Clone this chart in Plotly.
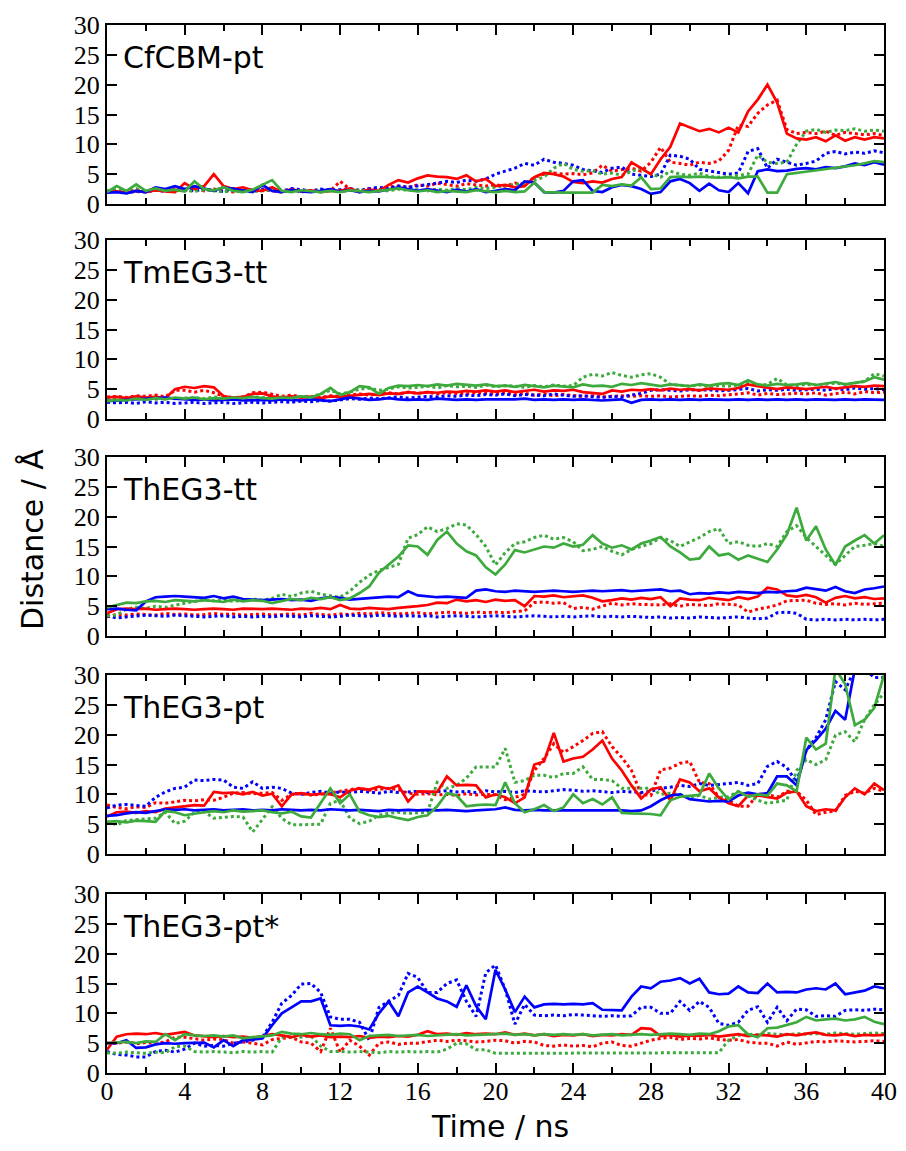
import plotly.graph_objects as go

# time grid (ns), one sample every 0.5 ns
time_ns = [i * 0.5 for i in range(81)]

panel_names = ["CfCBM-pt", "TmEG3-tt", "ThEG3-tt", "ThEG3-pt", "ThEG3-pt*"]
x_tick_vals = [0, 4, 8, 12, 16, 20, 24, 28, 32, 36, 40]
y_tick_vals = [0, 5, 10, 15, 20, 25, 30]

# ---------------- Panel 1: CfCBM-pt ----------------
cf_red = [2.0, 2.1, 1.9, 2.2, 2.0, 2.3, 2.1, 2.0,
          3.5, 2.5, 3.0, 5.0, 3.0, 2.5, 2.8, 2.3,
          2.2, 2.8, 2.0, 2.5, 2.1, 2.3, 2.0, 2.2,
          2.2, 2.6, 2.0, 2.4, 2.2, 3.2, 4.0, 3.6,
          4.3, 4.8, 4.6, 4.5, 4.2, 4.8, 3.8, 4.2,
          3.0, 3.2, 2.8, 3.0, 4.5, 5.2, 5.0, 4.6,
          3.7, 3.5, 3.8, 3.6, 4.2, 4.5, 7.0, 6.0,
          5.0, 7.5, 9.6, 13.5, 12.8, 12.2, 12.6, 12.0,
          12.8, 12.0, 15.5, 17.5, 20.0, 17.0, 11.8, 11.0,
          10.8, 11.2, 10.5, 11.5, 10.6, 11.2, 10.8, 11.2, 11.0]
cf_blue = [1.9, 2.0, 1.8, 2.2, 2.0, 2.8, 2.5, 3.0,
           2.5, 3.0, 2.6, 2.2, 2.8, 2.5, 2.2, 2.0,
           3.2, 2.2, 2.0, 2.4, 2.1, 2.0, 2.2, 2.5,
           2.1, 2.3, 2.0, 2.2, 2.1, 2.4, 2.8, 2.5,
           2.2, 2.5, 2.3, 2.0, 2.4, 2.1, 2.5, 2.0,
           2.2, 2.5, 2.3, 3.8, 3.6, 2.0, 1.9, 2.2,
           3.8, 4.0, 2.2, 2.0, 2.8, 3.2, 3.0, 2.5,
           1.7, 2.0, 3.8, 4.2, 3.5, 2.2, 3.4, 2.3,
           2.0, 3.5, 1.8, 5.5, 5.8, 5.5, 5.6, 5.9,
           6.0, 5.8, 6.2, 6.0, 6.3, 6.8, 6.5, 7.0, 6.6]
cf_green = [2.0, 3.0, 2.2, 3.3, 2.2, 2.6, 2.2, 2.4,
            2.1, 3.8, 2.5, 2.3, 2.8, 2.2, 2.0, 2.4,
            3.2, 4.0, 2.2, 2.0, 2.3, 2.1, 2.0, 2.2,
            2.0, 2.3, 2.1, 2.0, 2.2, 2.4, 2.6, 2.3,
            2.1, 2.3, 2.0, 2.2, 2.1, 2.0, 2.3, 2.1,
            2.0, 2.2, 2.0, 2.1, 3.6, 2.0, 1.9, 1.9,
            1.9, 1.9, 1.9, 3.2, 3.0, 3.3, 3.1, 4.5,
            2.5, 2.6, 4.5, 4.6, 4.5, 4.6, 4.5, 4.4,
            4.5, 4.3, 4.6, 4.6, 1.9, 1.9, 5.0, 5.2,
            5.5, 5.6, 5.8, 6.0, 6.2, 6.5, 6.8, 7.2, 7.0]
cf_red_dot = [2.0, 2.2, 2.0, 2.3, 2.1, 2.4, 2.2, 2.5,
              2.3, 2.6, 2.2, 2.5, 2.3, 2.0, 2.3, 2.1,
              2.4, 2.2, 2.0, 2.3, 2.2, 2.1, 2.4, 2.2,
              3.8, 2.5, 2.2, 2.6, 2.4, 2.9, 3.0, 2.8,
              3.2, 3.0, 3.5, 3.3, 3.0, 3.4, 3.2, 3.0,
              3.2, 3.0, 3.5, 3.3, 4.5, 5.0, 5.2, 5.0,
              5.1, 4.9, 5.2, 6.5, 5.5, 5.8, 6.0, 5.5,
              7.0, 9.5, 7.0, 6.8, 6.5, 7.0, 6.8, 7.2,
              9.0, 13.2, 13.0, 15.2, 16.6, 17.4, 12.5, 11.8,
              12.0, 11.8, 12.2, 11.5, 12.0, 11.8, 11.6, 11.8, 11.5]
cf_blue_dot = [2.0, 2.2, 1.9, 2.1, 2.0, 2.3, 2.1, 2.2,
               2.4, 2.2, 2.5, 2.3, 2.1, 2.6, 2.2, 2.4,
               2.5, 2.3, 2.2, 2.6, 2.4, 2.2, 2.5, 2.3,
               2.4, 2.6, 2.3, 2.5, 2.8, 2.6, 3.0, 2.8,
               3.0, 3.2, 3.5, 3.8, 3.6, 4.0, 3.8, 4.2,
               5.0, 5.5, 6.0, 6.8, 6.5, 7.5, 7.0, 6.8,
               6.5, 5.8, 5.5, 5.3, 6.0, 6.2, 5.0, 4.8,
               4.6, 5.0, 8.2, 8.0, 7.5, 5.8, 5.5, 5.3,
               5.0, 5.2, 8.8, 9.3, 6.0, 7.5, 7.0, 6.5,
               6.8, 7.2, 8.5, 8.8, 8.4, 8.7, 8.5, 8.9, 8.6]
cf_green_dot = [2.2, 2.4, 2.0, 2.6, 2.1, 2.3, 2.5, 2.2,
                2.3, 2.1, 2.4, 2.2, 2.0, 2.3, 2.2, 2.1,
                2.2, 2.4, 2.1, 2.3, 2.0, 2.2, 2.1, 2.3,
                2.1, 2.2, 2.4, 2.1, 2.3, 2.2, 2.5, 2.3,
                2.4, 2.2, 2.5, 2.3, 2.6, 2.4, 2.8, 2.6,
                2.8, 3.0, 3.2, 3.5, 4.0, 4.5, 6.0, 6.8,
                5.8, 5.5, 5.6, 5.0, 5.2, 4.8, 5.5, 6.0,
                5.0, 4.5, 5.5, 5.0, 4.8, 5.2, 4.6, 4.5,
                4.6, 4.8, 5.0, 8.2, 7.0, 6.8, 7.0, 10.0,
                12.2, 12.5, 12.0, 12.4, 12.3, 12.6, 12.2, 12.4, 12.2]

# ---------------- Panel 2: TmEG3-tt ----------------
tm_red = [3.6, 3.7, 3.5, 3.8, 3.6, 3.7, 3.5, 5.0,
          5.4, 5.2, 5.5, 5.3, 3.8, 3.6, 3.7, 4.2,
          4.3, 3.8, 3.6, 3.8, 3.6, 3.7, 3.5, 3.8,
          3.7, 3.9, 4.0, 4.2, 4.0, 4.3, 4.2, 4.5,
          4.3, 4.5, 4.4, 4.6, 4.5, 4.7, 4.6, 4.8,
          4.6, 4.8, 4.5, 4.7, 4.9, 4.6, 4.8, 4.7,
          4.9, 4.5, 4.4, 4.2, 4.8, 4.6, 4.9, 4.8,
          5.0, 4.8, 5.1, 4.9, 5.0, 4.8, 5.1, 5.0,
          4.9, 5.2, 5.8, 5.5, 5.2, 5.0, 5.3, 5.1,
          5.0, 5.2, 5.4, 5.1, 5.3, 5.5, 5.4, 5.6, 5.5]
tm_blue = [3.0, 3.1, 3.2, 3.3, 3.4, 3.5, 3.6, 3.4,
           3.3, 3.2, 3.3, 3.1, 3.2, 3.3, 3.1, 3.2,
           3.2, 3.1, 3.3, 3.2, 3.1, 3.3, 3.2, 3.0,
           3.3, 3.6, 3.4, 3.2, 3.3, 3.5, 3.3, 3.2,
           3.3, 3.2, 3.4, 3.3, 3.2, 3.3, 3.2, 3.3,
           3.3, 3.2, 3.3, 3.4, 3.2, 3.3, 3.2, 3.3,
           3.2, 3.3, 3.2, 3.1, 3.2, 3.3, 2.7, 3.2,
           3.3, 3.2, 3.3, 3.2, 3.3, 3.2, 3.3, 3.2,
           3.2, 3.3, 3.2, 3.3, 3.2, 3.3, 3.2, 3.3,
           3.2, 3.3, 3.2, 3.2, 3.3, 3.2, 3.3, 3.2, 3.2]
tm_green = [3.0, 3.2, 3.1, 3.4, 3.2, 3.5, 3.3, 3.6,
            3.4, 3.6, 3.3, 3.5, 3.4, 3.6, 3.5, 3.7,
            3.5, 3.4, 3.6, 3.5, 3.8, 3.6, 4.2, 5.2,
            4.0, 4.5, 5.5, 5.3, 4.2, 5.2, 5.6, 5.5,
            5.7, 5.5, 5.8, 5.6, 5.9, 5.7, 5.6, 5.8,
            5.5, 5.6, 5.4, 5.7, 5.5, 5.3, 5.6, 5.5,
            5.3, 5.8, 5.5, 5.6, 5.4, 5.9, 5.7, 6.0,
            5.7, 5.5, 5.8, 5.6, 5.5, 5.8, 5.6, 5.9,
            6.0, 5.7, 6.5, 5.8, 5.6, 5.9, 5.7, 5.8,
            6.0, 5.7, 5.9, 6.2, 5.8, 6.0, 6.3, 7.0, 6.6]
tm_red_dot = [3.7, 3.8, 3.6, 3.9, 3.8, 4.0, 3.7, 4.8,
              4.8, 4.5, 4.8, 4.4, 3.8, 3.6, 3.7, 4.4,
              4.5, 4.2, 3.8, 4.0, 3.7, 3.8, 3.6, 3.9,
              3.8, 4.0, 4.2, 4.0, 4.3, 4.4, 4.2, 4.5,
              4.3, 4.5, 4.2, 4.4, 4.3, 4.2, 4.4, 4.3,
              4.2, 4.4, 4.1, 4.3, 4.0, 4.2, 3.9, 4.1,
              4.0, 3.8, 3.9, 3.7, 3.8, 3.9, 3.8, 3.9,
              3.8, 3.9, 3.7, 3.8, 3.9, 3.8, 4.0, 3.9,
              4.0, 4.2, 4.4, 4.0, 4.3, 4.1, 4.2, 4.3,
              4.2, 4.4, 4.0, 4.3, 4.5, 4.2, 4.6, 4.4, 4.5]
tm_blue_dot = [2.8, 2.7, 2.8, 2.6, 2.9, 2.7, 2.8, 2.6,
               2.7, 2.8, 2.6, 2.7, 2.8, 2.6, 2.7, 2.8,
               2.7, 2.8, 2.9, 2.8, 3.0, 2.9, 3.1, 3.0,
               3.2, 3.4, 3.3, 3.5, 3.4, 3.6, 3.7, 3.5,
               3.6, 3.8, 3.7, 3.9, 3.8, 4.0, 3.9, 4.1,
               4.0, 4.2, 3.9, 4.1, 4.0, 3.9, 4.2, 4.0,
               3.8, 3.9, 3.7, 3.6, 3.8, 3.7, 4.0, 4.3,
               4.8, 4.9, 4.8, 4.7, 4.9, 4.8, 4.9, 4.7,
               4.8, 4.9, 5.1, 4.7, 4.9, 4.8, 5.0, 4.8,
               4.9, 5.0, 4.8, 5.1, 4.9, 5.2, 5.0, 5.1, 4.9]
tm_green_dot = [3.2, 3.4, 3.3, 3.5, 3.4, 3.3, 3.6, 3.4,
                3.5, 3.6, 3.4, 3.7, 3.5, 3.6, 3.4, 3.7,
                3.6, 3.5, 3.7, 3.6, 3.8, 3.7, 4.2, 4.8,
                4.2, 4.5, 5.0, 5.2, 4.8, 5.0, 5.4, 5.2,
                5.3, 5.5, 5.2, 5.6, 5.4, 5.5, 5.3, 5.7,
                5.4, 5.6, 5.5, 5.3, 5.6, 5.4, 5.7, 5.5,
                5.6, 7.0, 7.5, 7.2, 7.8, 7.3, 7.0, 7.4,
                7.6, 7.0, 5.8, 5.6, 5.5, 5.7, 5.4, 5.6,
                5.5, 5.7, 6.0, 5.6, 5.8, 6.8, 5.7, 5.6,
                5.8, 5.7, 5.9, 6.0, 5.8, 6.1, 6.3, 7.6, 7.2]

# ---------------- Panel 3: ThEG3-tt ----------------
thtt_red = [3.8, 4.5, 4.6, 4.5, 4.6, 4.4, 4.5, 4.6,
            4.5, 4.4, 4.5, 4.6, 4.5, 4.4, 4.6, 4.5,
            4.5, 4.6, 4.5, 4.4, 4.6, 4.5, 4.7, 4.5,
            5.2, 4.6, 4.5, 4.7, 4.6, 4.5, 4.7, 4.8,
            5.0, 5.2, 5.6, 5.5, 6.1, 5.8, 6.0, 5.7,
            6.1, 5.9, 6.0, 5.0, 6.7, 6.6, 6.8, 6.5,
            6.6, 6.8, 6.4, 5.8, 6.0, 6.3, 6.1, 6.4,
            6.2, 6.5, 5.0, 6.3, 6.1, 6.0, 6.4, 6.2,
            6.0, 6.5, 6.2, 6.6, 8.1, 7.8, 6.8, 6.6,
            6.9, 6.5, 5.6, 6.4, 6.7, 6.3, 6.5, 6.2, 6.3]
thtt_blue = [4.5, 4.6, 4.4, 4.3, 5.8, 6.5, 6.6, 6.7,
             6.6, 6.5, 6.4, 6.7, 6.3, 6.6, 6.2, 6.1,
             6.0, 6.1, 6.2, 6.0, 6.1, 5.9, 6.3, 6.5,
             6.4, 6.1, 6.2, 6.3, 6.4, 6.6, 6.5, 7.5,
             6.8, 6.6, 6.5, 6.6, 6.5, 6.4, 7.6, 7.8,
             7.5, 7.4, 7.6, 7.5, 7.4, 7.5, 7.6, 7.5,
             7.4, 7.5, 7.6, 7.5, 7.6, 7.7, 7.5, 7.6,
             7.7, 7.8, 7.5, 7.6, 7.0, 7.2, 7.1, 7.3,
             7.2, 7.4, 7.3, 7.2, 7.4, 7.3, 7.5, 7.6,
             8.1, 7.8, 7.6, 8.2, 7.5, 7.2, 7.8, 8.0, 8.3]
thtt_green = [4.8, 5.2, 5.6, 5.5, 5.8, 5.9, 5.7, 6.0,
              5.9, 5.8, 6.0, 5.9, 5.7, 6.1, 5.8, 6.0,
              5.9, 5.5, 5.8, 6.2, 6.0, 6.4, 6.2, 6.5,
              6.0, 6.3, 7.2, 8.3, 10.6, 12.0, 13.3, 15.2,
              15.0, 13.6, 16.1, 17.5, 15.5, 14.2, 13.5, 11.5,
              10.3, 12.0, 14.4, 14.0, 14.5, 15.0, 14.8, 15.5,
              15.0, 15.3, 16.9, 15.5, 14.8, 15.2, 14.5, 15.5,
              16.0, 16.6, 15.0, 14.0, 12.8, 13.0, 15.0, 13.5,
              13.8, 12.8, 13.5, 12.9, 12.4, 14.5, 17.0, 21.5,
              16.0, 18.4, 14.5, 11.9, 15.0, 16.0, 16.9, 15.5, 16.9]
thtt_red_dot = [3.2, 3.6, 3.5, 3.7, 3.6, 3.5, 3.8, 3.6,
                3.7, 3.5, 3.6, 3.8, 3.6, 3.7, 3.5, 3.6,
                3.7, 3.5, 3.6, 3.7, 3.5, 3.8, 3.6, 3.5,
                3.7, 3.6, 3.8, 3.7, 3.9, 3.8, 3.7, 3.8,
                3.9, 3.7, 3.8, 4.0, 3.9, 3.8, 4.0, 3.9,
                4.0, 3.9, 4.1, 4.2, 5.6, 5.7, 5.5, 5.6,
                4.6, 4.8, 4.5, 5.0, 5.5, 5.2, 5.4, 5.3,
                5.3, 5.2, 5.4, 5.0, 5.3, 5.2, 5.1, 5.4,
                5.3, 5.2, 4.0, 4.5, 4.8, 5.2, 5.9, 6.0,
                6.0, 5.5, 5.3, 5.4, 5.2, 5.5, 5.3, 5.4, 5.5]
thtt_blue_dot = [3.4, 3.0, 3.2, 3.3, 3.5, 3.4, 3.3, 3.5,
                 3.4, 3.3, 3.2, 3.3, 3.4, 3.2, 3.3, 3.2,
                 3.3, 3.2, 3.4, 3.3, 3.2, 3.4, 3.3, 3.2,
                 3.3, 3.5, 3.4, 3.3, 3.5, 3.4, 3.3, 3.4,
                 3.3, 3.4, 3.2, 3.3, 3.4, 3.3, 3.2, 3.3,
                 3.4, 3.3, 3.2, 3.3, 3.4, 3.3, 3.2, 3.3,
                 3.2, 3.3, 3.4, 3.2, 3.3, 3.2, 3.3, 3.2,
                 3.1, 3.2, 3.0, 3.1, 3.0, 3.2, 3.1, 3.0,
                 3.1, 3.2, 3.0, 2.9, 3.0, 3.9, 4.0, 3.8,
                 2.8, 2.7, 2.8, 2.7, 2.8, 2.7, 2.8, 2.7, 2.8]
thtt_green_dot = [3.4, 3.5, 4.5, 4.8, 4.6, 5.0, 4.8, 5.2,
                  5.5, 5.8, 6.0, 5.9, 6.1, 5.8, 6.0, 6.2,
                  6.0, 6.3, 7.0, 6.6, 7.2, 7.5, 7.0, 6.8,
                  6.5, 7.5, 9.0, 10.2, 11.0, 11.5, 12.0, 16.4,
                  17.0, 18.3, 17.5, 18.0, 18.8, 18.6, 17.0, 15.0,
                  11.9, 14.0, 15.5, 15.8, 16.5, 16.9, 16.2, 16.5,
                  15.8, 14.3, 14.5, 15.0, 14.2, 13.6, 14.5, 15.0,
                  15.5, 16.5, 16.0, 15.0, 15.8, 16.5, 17.5, 18.0,
                  15.5, 15.8, 15.2, 15.0, 15.5, 15.0, 17.5, 18.5,
                  16.5, 15.0, 13.5, 12.0, 13.5, 15.0, 15.2, 15.5, 15.0]

# ---------------- Panel 4: ThEG3-pt ----------------
thpt_red = [6.3, 7.0, 7.1, 6.9, 7.2, 7.0, 7.6, 7.8,
            8.0, 8.2, 8.1, 10.4, 10.2, 10.3, 10.0, 10.4,
            9.8, 10.1, 8.0, 10.0, 10.2, 9.9, 10.1, 10.0,
            9.5, 10.6, 11.0, 10.8, 11.3, 10.9, 11.5, 8.8,
            10.5, 10.4, 10.4, 13.0, 11.5, 11.6, 11.5, 9.5,
            10.0, 9.5, 8.5, 9.5, 15.0, 15.5, 20.3, 15.5,
            16.0, 16.3, 17.5, 19.0, 16.0, 14.0, 11.5, 9.3,
            10.8, 11.2, 9.0, 12.5, 12.0, 10.5, 11.0, 9.5,
            8.5, 8.0, 9.8, 9.8, 9.5, 9.3, 10.3, 10.5,
            8.0, 7.2, 7.5, 7.3, 9.5, 11.0, 10.0, 11.8, 10.7]
thpt_blue = [6.4, 6.5, 6.8, 7.0, 6.9, 7.2, 7.5, 7.4,
             7.5, 7.3, 7.4, 7.5, 7.3, 7.4, 7.5, 7.3,
             7.4, 7.3, 7.5, 7.4, 7.3, 7.4, 7.3, 7.5,
             7.4, 7.3, 7.4, 7.3, 7.2, 7.4, 7.3, 7.4,
             7.3, 7.4, 7.3, 7.4, 7.3, 7.2, 7.3, 7.4,
             7.5, 7.8, 7.4, 7.3, 7.4, 7.3, 7.3, 7.4,
             7.3, 7.4, 7.3, 7.3, 7.4, 7.3, 7.2, 7.3,
             8.0, 9.0, 9.8, 10.0, 9.2, 9.0, 8.8, 8.9,
             8.8, 9.8, 10.3, 10.0, 10.2, 13.0, 13.0, 11.5,
             17.4, 19.1, 21.0, 24.0, 22.5, 31.0, 32.0, 31.0, 30.5]
thpt_green = [5.4, 5.5, 5.3, 5.6, 5.5, 5.4, 7.2, 7.0,
              6.5, 6.8, 7.0, 7.2, 7.0, 7.3, 7.1, 7.2,
              7.3, 7.0, 6.8, 7.1, 6.3, 6.1, 8.5, 11.0,
              8.5, 10.0, 7.1, 6.5, 6.2, 6.4, 6.0, 5.7,
              6.2, 6.5, 8.0, 10.2, 9.8, 8.0, 8.2, 8.3,
              8.2, 12.0, 8.5, 7.0, 7.5, 8.2, 7.2, 7.8,
              10.0, 8.5, 9.2, 8.3, 9.5, 6.9, 6.8, 6.8,
              6.7, 6.5, 9.0, 9.6, 9.8, 9.9, 13.5, 11.0,
              9.1, 10.5, 9.6, 10.0, 9.8, 11.8, 11.5, 10.5,
              19.5, 17.5, 18.5, 31.0, 28.5, 21.6, 22.5, 24.5, 30.0]
thpt_red_dot = [8.2, 7.8, 7.6, 7.9, 7.8, 8.6, 8.5, 8.7,
                9.0, 8.9, 9.1, 9.0, 9.5, 10.2, 10.3, 10.1,
                10.2, 10.3, 9.0, 10.0, 10.1, 9.9, 10.0, 10.2,
                10.5, 10.8, 11.0, 10.7, 10.9, 11.0, 10.8, 10.2,
                10.0, 10.1, 9.9, 10.0, 9.8, 10.1, 9.9, 10.0,
                9.9, 9.1, 9.5, 10.0, 14.0, 16.0, 18.5, 17.0,
                18.0, 19.0, 20.2, 20.5, 18.0, 16.2, 14.0, 10.0,
                9.8, 14.1, 14.4, 15.2, 15.5, 12.0, 11.8, 9.5,
                9.0, 8.0, 8.0, 10.0, 10.0, 9.5, 10.5, 10.5,
                9.0, 6.6, 7.0, 7.2, 9.8, 10.5, 10.2, 11.0, 10.5]
thpt_blue_dot = [7.7, 8.2, 8.3, 8.1, 8.0, 9.5, 10.4, 11.0,
                 11.2, 12.4, 12.3, 12.5, 12.4, 11.2, 11.0, 12.1,
                 11.0, 11.2, 11.0, 10.2, 10.0, 10.3, 10.5, 10.2,
                 10.4, 10.3, 10.5, 10.4, 10.2, 10.5, 10.3, 10.4,
                 10.5, 10.3, 10.4, 10.6, 10.4, 10.5, 10.3, 10.6,
                 10.4, 10.5, 10.3, 10.6, 10.5, 10.4, 10.6, 10.8,
                 10.7, 10.5, 10.6, 10.4, 10.3, 10.5, 10.4, 10.3,
                 10.5, 11.0, 11.2, 11.5, 11.3, 11.8, 11.5, 11.6,
                 11.8, 12.0, 11.5, 11.8, 14.7, 15.5, 14.5, 12.0,
                 17.4, 19.5, 22.5, 28.9, 27.5, 31.0, 31.0, 29.6, 29.6]
thpt_green_dot = [5.4, 4.9, 5.6, 5.8, 5.9, 6.0, 7.0, 5.1,
                  5.5, 7.0, 7.1, 6.0, 6.2, 6.3, 6.2, 3.7,
                  5.8, 7.9, 6.0, 4.9, 4.9, 5.0, 5.0, 8.5,
                  9.0, 6.0, 5.1, 5.5, 6.5, 6.8, 7.0, 6.8,
                  6.9, 7.0, 12.0, 11.0, 11.5, 12.7, 14.6, 14.6,
                  14.6, 17.7, 12.0, 12.3, 13.2, 13.2, 12.8, 13.5,
                  13.5, 14.6, 12.5, 12.5, 12.3, 11.0, 11.0, 11.0,
                  11.0, 10.0, 10.2, 10.0, 9.5, 9.8, 9.2, 9.5,
                  9.6, 10.5, 9.8, 9.0, 8.5, 8.8, 9.0, 14.0,
                  15.8, 15.0, 15.8, 19.9, 20.5, 18.8, 22.5, 25.0, 27.0]

# ---------------- Panel 5: ThEG3-pt* ----------------
thps_red = [3.9, 6.1, 6.5, 6.6, 6.5, 6.7, 6.4, 6.6,
            6.9, 6.3, 6.1, 6.0, 6.2, 6.0, 6.1, 5.9,
            6.2, 6.5, 6.3, 6.0, 6.4, 6.1, 6.3, 6.0,
            6.1, 6.0, 6.2, 5.9, 6.1, 6.0, 6.2, 6.1,
            6.4, 7.0, 6.5, 6.6, 6.4, 6.7, 6.5, 6.6,
            6.5, 6.8, 6.4, 6.6, 6.3, 6.5, 6.2, 6.4,
            6.3, 6.5, 6.2, 6.4, 6.3, 6.5, 6.4, 7.5,
            7.4, 6.2, 6.4, 6.1, 6.3, 6.2, 6.4, 6.1,
            6.3, 6.5, 6.2, 6.4, 6.3, 6.1, 6.5, 6.3,
            6.6, 6.8, 6.4, 6.3, 6.5, 6.2, 6.4, 6.3, 6.4]
thps_blue = [5.0, 5.0, 5.5, 4.2, 4.3, 4.8, 5.0, 4.9,
             5.0, 5.0, 5.1, 4.3, 5.5, 4.5, 5.5, 5.6,
             5.8, 8.0, 10.0, 11.0, 12.0, 12.0, 12.5, 8.0,
             7.9, 8.0, 7.8, 7.3, 10.0, 12.0, 9.5, 13.5,
             14.5, 13.5, 12.5, 12.0, 11.1, 14.7, 11.2, 9.0,
             17.3, 14.0, 10.2, 12.8, 11.0, 11.5, 11.6, 11.5,
             11.6, 11.5, 11.7, 10.6, 10.5, 10.5, 12.8, 14.5,
             14.2, 15.3, 15.5, 15.9, 15.0, 15.8, 13.5, 13.2,
             13.3, 14.5, 13.5, 13.4, 15.0, 13.5, 13.6, 13.5,
             14.0, 14.2, 14.0, 15.0, 13.2, 13.5, 13.8, 14.5, 14.2]
thps_green = [5.0, 5.1, 5.2, 5.0, 5.3, 5.2, 6.5, 5.5,
              6.5, 6.3, 6.2, 6.3, 6.1, 6.3, 5.8, 6.0,
              6.1, 6.3, 6.9, 6.6, 6.5, 6.7, 6.5, 6.4,
              6.6, 6.5, 5.5, 6.2, 6.3, 6.4, 6.2, 6.3,
              6.4, 6.2, 6.3, 6.4, 6.5, 6.3, 6.4, 6.5,
              6.5, 6.6, 6.4, 6.5, 6.3, 6.5, 6.4, 6.5,
              6.4, 6.5, 6.3, 6.4, 6.5, 6.3, 6.4, 6.5,
              6.4, 6.5, 6.6, 6.5, 6.4, 6.6, 6.5, 7.0,
              7.8, 8.0, 6.5, 6.0, 7.5, 7.6, 8.0, 8.5,
              9.4, 8.8, 9.0, 9.1, 8.8, 9.0, 9.4, 8.6, 8.2]
thps_red_dot = [5.0, 5.0, 5.2, 4.9, 5.1, 5.0, 5.2, 6.0,
                6.0, 5.8, 5.5, 5.7, 5.6, 5.0, 5.2, 5.0,
                4.7, 5.6, 5.8, 6.0, 5.2, 5.0, 3.6, 7.5,
                3.5, 5.5, 4.5, 3.0, 5.0, 5.2, 4.8, 5.0,
                5.0, 5.2, 5.5, 5.3, 5.5, 5.4, 5.2, 5.3,
                5.5, 5.4, 5.0, 5.3, 5.2, 4.6, 4.5, 4.7,
                4.5, 4.6, 4.4, 5.0, 5.2, 4.6, 4.5, 5.0,
                5.5, 5.8, 6.0, 5.6, 5.8, 5.7, 5.9, 5.6,
                5.5, 5.6, 5.2, 5.0, 5.0, 4.5, 5.2, 4.8,
                5.0, 5.3, 5.2, 5.4, 5.3, 5.2, 5.3, 5.4, 5.3]
thps_blue_dot = [3.6, 3.1, 3.0, 2.7, 2.7, 3.6, 3.8, 3.5,
                 4.0, 5.0, 4.5, 4.6, 4.5, 5.0, 5.2, 5.5,
                 6.0, 8.5, 11.7, 13.0, 14.9, 15.0, 13.5, 9.4,
                 9.0, 9.0, 8.5, 5.5, 11.0, 12.0, 13.0, 16.7,
                 16.0, 13.5, 13.5, 15.0, 15.6, 12.0, 9.5, 16.8,
                 18.1, 14.0, 8.2, 11.5, 9.7, 9.6, 9.7, 9.6,
                 9.8, 9.7, 9.6, 9.5, 9.6, 9.5, 9.6, 11.0,
                 11.0, 10.0, 10.0, 12.0, 10.5, 12.0, 11.0, 8.3,
                 8.0, 8.5, 10.5, 11.1, 8.5, 11.0, 8.8, 10.7,
                 10.6, 9.5, 9.6, 9.5, 10.5, 10.6, 10.5, 10.7, 10.6]
thps_green_dot = [3.4, 3.3, 3.5, 3.4, 3.3, 3.5, 3.4, 4.4,
                  4.5, 3.6, 3.5, 3.6, 3.5, 3.4, 3.6, 3.5,
                  3.6, 3.5, 6.0, 6.1, 6.0, 6.2, 4.5, 3.6,
                  3.6, 3.5, 3.6, 3.5, 3.4, 3.6, 3.5, 3.6,
                  3.5, 3.6, 3.5, 4.0, 5.0, 4.9, 3.9, 3.9,
                  3.3, 3.3, 3.3, 3.3, 3.3, 3.3, 3.3, 3.3,
                  3.3, 3.3, 3.3, 3.3, 3.3, 3.3, 3.3, 3.3,
                  3.3, 3.3, 3.3, 3.3, 3.3, 3.3, 3.3, 3.4,
                  5.5, 6.3, 6.5, 6.4, 6.6, 6.5, 6.4, 6.6,
                  6.5, 6.6, 6.5, 6.7, 6.6, 6.5, 6.6, 6.7, 6.6]

panels = [
    (cf_red, cf_blue, cf_green, cf_red_dot, cf_blue_dot, cf_green_dot),
    (tm_red, tm_blue, tm_green, tm_red_dot, tm_blue_dot, tm_green_dot),
    (thtt_red, thtt_blue, thtt_green, thtt_red_dot, thtt_blue_dot, thtt_green_dot),
    (thpt_red, thpt_blue, thpt_green, thpt_red_dot, thpt_blue_dot, thpt_green_dot),
    (thps_red, thps_blue, thps_green, thps_red_dot, thps_blue_dot, thps_green_dot),
]

RED, BLUE, GREEN = "#ff0000", "#0000ff", "#3caa3c"
# the page body adds an 8 px margin, so the figure is drawn 8 px in from the corner
OFF = 8
W, H = 906 - OFF, 1151 - OFF


def px_x(x):
    return (x - OFF) / W


def px_y(y):
    return 1 - (y - OFF) / H


plot_left, plot_right = 107, 884
panel_tops = [25, 240, 457, 675, 894]
panel_h = 179
TICK_FONT = dict(family="Liberation Serif", size=26, color="black")

fig = go.Figure()
for k, (r, b, g, rd, bd, gd) in enumerate(panels):
    ax = "" if k == 0 else str(k + 1)
    xa, ya = "x" + ax, "y" + ax
    for ys, col in ((rd, RED), (bd, BLUE), (gd, GREEN)):
        fig.add_trace(go.Scatter(x=time_ns, y=ys, mode="lines", xaxis=xa, yaxis=ya,
                                 line=dict(color=col, width=3, dash="dot"),
                                 showlegend=False, hoverinfo="skip"))
    for ys, col in ((r, RED), (b, BLUE), (g, GREEN)):
        fig.add_trace(go.Scatter(x=time_ns, y=ys, mode="lines", xaxis=xa, yaxis=ya,
                                 line=dict(color=col, width=2.7),
                                 showlegend=False, hoverinfo="skip"))

    top = panel_tops[k]
    last = (k == 4)
    fig.layout["xaxis" + ax] = dict(
        domain=[px_x(plot_left), px_x(plot_right)], anchor=ya, range=[0, 40],
        tickvals=x_tick_vals, ticks="inside", ticklen=10, tickwidth=2, tickcolor="black",
        minor=dict(dtick=2, tick0=0, ticks="inside", ticklen=6, tickwidth=2, tickcolor="black"),
        showline=True, linewidth=2, linecolor="black", mirror="ticks",
        showgrid=False, zeroline=False, showticklabels=last, automargin=False,
        ticklabelstandoff=-6, tickfont=TICK_FONT,
    )
    fig.layout["yaxis" + ax] = dict(
        domain=[px_y(top + panel_h), px_y(top)], anchor=xa, range=[0, 30],
        tickvals=y_tick_vals, ticks="inside", ticklen=10, tickwidth=2, tickcolor="black",
        showline=True, linewidth=2, linecolor="black", mirror="ticks",
        showgrid=False, zeroline=False, automargin=False,
        tickfont=TICK_FONT,
    )
    fig.add_annotation(text=panel_names[k], xref=xa + " domain", yref=ya + " domain",
                       x=0.018, y=0.93, xanchor="left", yanchor="top", showarrow=False,
                       font=dict(family="DejaVu Sans", size=30, color="black"))

fig.add_annotation(text="Distance / Å", xref="paper", yref="paper",
                   x=px_x(32), y=px_y(540), xanchor="center", yanchor="middle",
                   textangle=-90, showarrow=False,
                   font=dict(family="DejaVu Sans", size=30, color="black"))
fig.add_annotation(text="Time / ns", xref="paper", yref="paper",
                   x=px_x(500), y=px_y(1126), xanchor="center", yanchor="middle",
                   showarrow=False,
                   font=dict(family="DejaVu Sans", size=30, color="black"))

fig.update_layout(width=W, height=H, margin=dict(l=0, r=0, t=0, b=0, autoexpand=False),
                  paper_bgcolor="white", plot_bgcolor="white", showlegend=False)

fig.write_html("out.html")
